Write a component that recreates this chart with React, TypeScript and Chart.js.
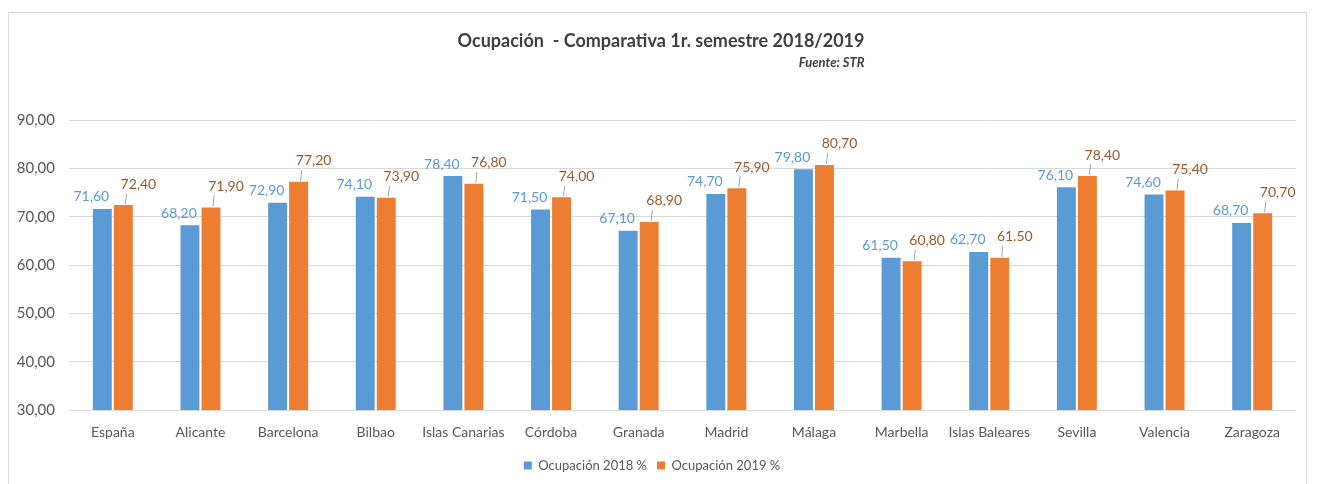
import React, { useEffect, useRef } from "react";
import { Chart, registerables } from "chart.js";

Chart.register(...registerables);

const categories = [
  "España", "Alicante", "Barcelona", "Bilbao", "Islas Canarias", "Córdoba", "Granada",
  "Madrid", "Málaga", "Marbella", "Islas Baleares", "Sevilla", "Valencia", "Zaragoza",
];
const occupancy2018 = [71.6, 68.2, 72.9, 74.1, 78.4, 71.5, 67.1, 74.7, 79.8, 61.5, 62.7, 76.1, 74.6, 68.7];
const occupancy2019 = [72.4, 71.9, 77.2, 73.9, 76.8, 74.0, 68.9, 75.9, 80.7, 60.8, 61.5, 78.4, 75.4, 70.7];
const labelOverrides2019: Record<number, string> = { 10: "61.50" };
const seriesNames = ["Ocupación 2018 %", "Ocupación 2019 %"];
const yMin = 30;
const yMax = 90;
const yStep = 10;
const titleText = "Ocupación  - Comparativa 1r. semestre 2018/2019";
const sourceText = "Fuente: STR";

const FONT = "Lato, 'Open Sans', sans-serif";
const BLUE = "#5B9BD5";
const ORANGE = "#ED7D31";
const BLUE_LABEL = "#5B9BD5";
const ORANGE_LABEL = "#9C5A2C";

const fmt = (v: number) => v.toFixed(2).replace(".", ",");

const titlePlugin = {
  id: "titlePlugin",
  afterDraw(chart: any) {
    const ctx = chart.ctx;
    ctx.save();
    ctx.fillStyle = "#404040";
    ctx.font = `bold 18px ${FONT}`;
    ctx.textAlign = "center";
    ctx.textBaseline = "middle";
    const cx = 661;
    ctx.fillText(titleText, cx, 41);
    const w = ctx.measureText(titleText).width;
    ctx.font = `italic bold 13px ${FONT}`;
    ctx.textAlign = "right";
    ctx.fillText(sourceText, cx + w / 2, 63);
    ctx.restore();
  },
};

const labelPlugin = {
  id: "labelPlugin",
  afterDatasetsDraw(chart: any) {
    const ctx = chart.ctx;
    ctx.save();
    ctx.font = `14px ${FONT}`;
    ctx.textBaseline = "middle";
    ctx.textAlign = "center";
    chart.data.datasets.forEach((ds: any, di: number) => {
      const meta = chart.getDatasetMeta(di);
      meta.data.forEach((el: any, i: number) => {
        const v = ds.data[i] as number;
        let text = fmt(v);
        if (di === 1 && labelOverrides2019[i] !== undefined) text = labelOverrides2019[i];
        const w = ctx.measureText(text).width;
        if (di === 0) {
          ctx.fillStyle = BLUE_LABEL;
          ctx.fillText(text, el.x - 11, el.y - 12);
        } else {
          const lx = el.x + 15;
          const ly = el.y - 21;
          ctx.strokeStyle = "#A6A6A6";
          ctx.lineWidth = 1;
          ctx.beginPath();
          ctx.moveTo(el.x + 2, el.y - 1);
          ctx.lineTo(lx - w / 2 + 6, ly + 9);
          ctx.stroke();
          ctx.fillStyle = ORANGE_LABEL;
          ctx.fillText(text, lx, ly);
        }
      });
    });
    ctx.restore();
  },
};

export default function App() {
  const ref = useRef<HTMLCanvasElement | null>(null);

  useEffect(() => {
    if (!ref.current) return;
    Chart.defaults.font.family = FONT;
    const chart = new Chart(ref.current, {
      type: "bar",
      data: {
        labels: categories,
        datasets: [
          {
            label: seriesNames[0],
            data: occupancy2018,
            backgroundColor: BLUE,
            categoryPercentage: 0.48,
            barPercentage: 0.9,
          },
          {
            label: seriesNames[1],
            data: occupancy2019,
            backgroundColor: ORANGE,
            categoryPercentage: 0.48,
            barPercentage: 0.9,
          },
        ],
      },
      options: {
        animation: false,
        responsive: false,
        maintainAspectRatio: false,
        layout: { padding: { left: 8, right: 21, top: 120, bottom: 2 } },
        plugins: {
          title: { display: false },
          tooltip: { enabled: false },
          legend: {
            position: "bottom",
            labels: {
              boxWidth: 8,
              boxHeight: 8,
              padding: 10,
              color: "#595959",
              font: { size: 13, family: FONT },
            },
          },
        },
        scales: {
          x: {
            grid: { display: false, drawTicks: false },
            border: { display: false },
            ticks: {
              color: "#595959",
              font: { size: 14, family: FONT },
              padding: 14,
              maxRotation: 0,
              autoSkip: false,
            },
            afterFit: (s: any) => {
              s.height = 39;
            },
          },
          y: {
            min: yMin,
            max: yMax,
            grid: { color: "#D9D9D9", drawTicks: false },
            border: { display: false },
            ticks: {
              stepSize: yStep,
              color: "#595959",
              font: { size: 15, family: FONT },
              padding: 14,
              callback: (v: any) => fmt(Number(v)),
            },
            afterFit: (s: any) => {
              s.width = 61;
            },
          },
        },
      },
      plugins: [titlePlugin, labelPlugin],
    } as any);
    return () => chart.destroy();
  }, []);

  return (
    <div style={{ position: "fixed", left: 0, top: 0, width: 1317, height: 484, background: "#fff" }}>
      <div
        style={{
          position: "absolute",
          left: 8,
          top: 12,
          width: 1299,
          height: 480,
          border: "1px solid #D9D9D9",
          boxSizing: "border-box",
        }}
      />
      <canvas ref={ref} width={1317} height={484} style={{ position: "absolute", left: 0, top: 0 }} />
    </div>
  );
}
